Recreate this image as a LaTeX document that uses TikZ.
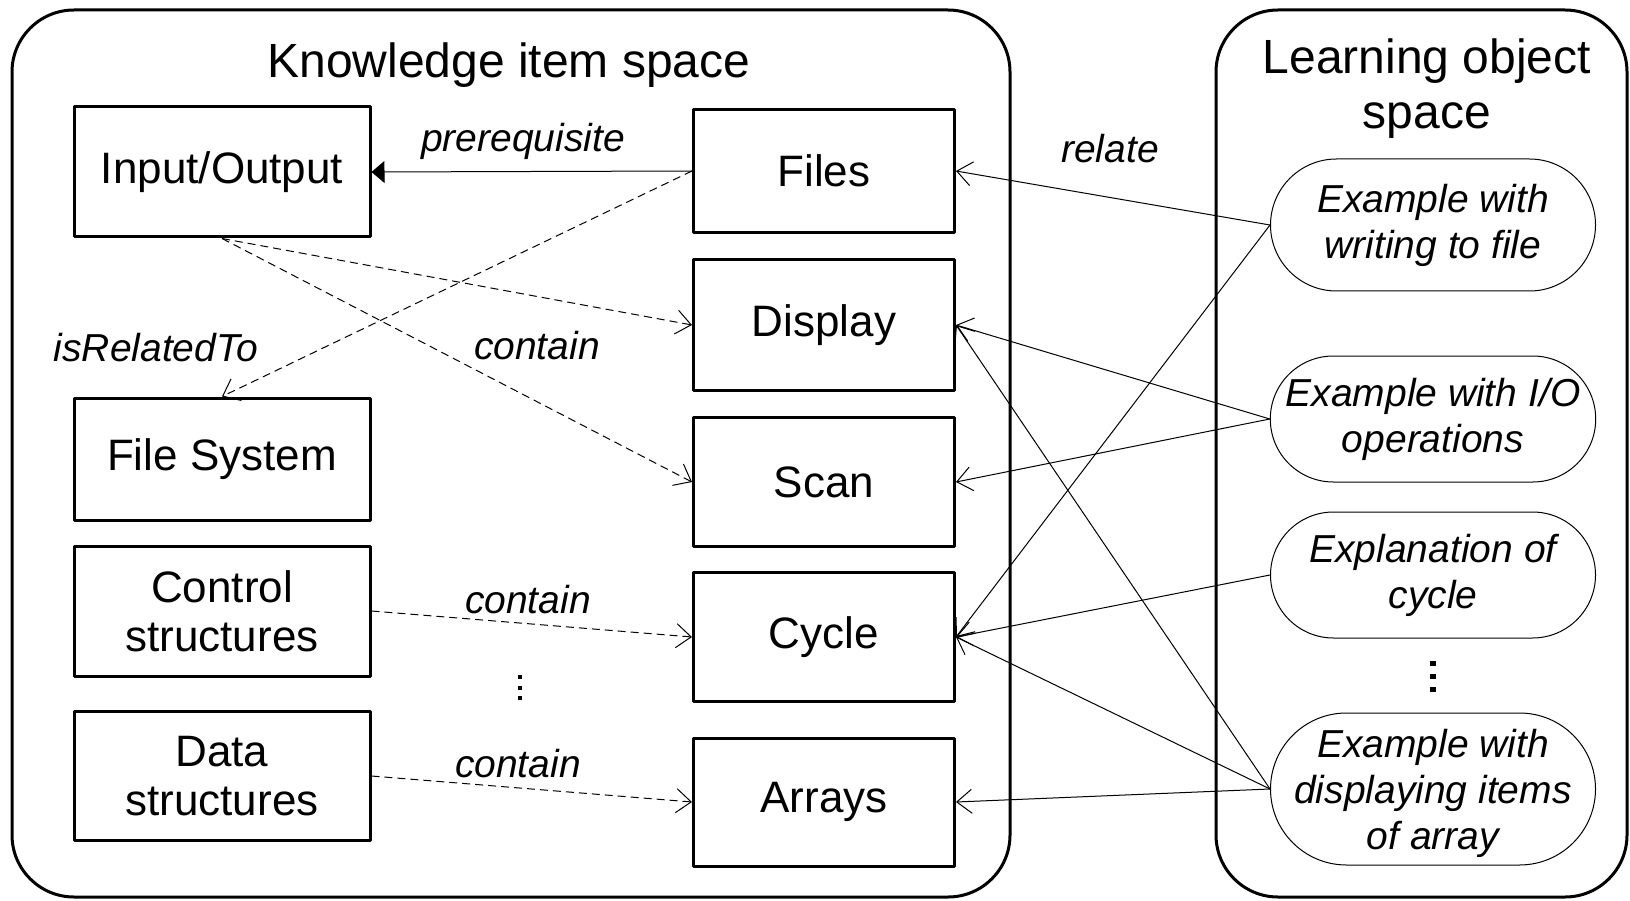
\documentclass[tikz,border=0pt]{standalone}
\usepackage{fontspec}
\setmainfont{Liberation Sans}
\usetikzlibrary{arrows.meta,shapes.misc}
\newcommand{\narrow}[1]{\makebox[200pt]{#1}}
\tikzset{
  kitem/.style={draw, line width=3pt, minimum width=296pt, inner sep=0pt, align=center, font=\fontsize{44}{49}\selectfont},
  kfile/.style={kitem, minimum width=261pt},
  lobj/.style={draw, line width=1pt, rounded rectangle, minimum width=325pt, inner sep=0pt, align=center, font=\fontsize{39}{46}\selectfont\itshape},
  lbl/.style={font=\fontsize{39}{46}\selectfont\itshape},
  rel/.style={line width=1pt, -{Straight Barb[length=15pt,width=24pt,line width=1pt]}},
  dsh/.style={rel, dash pattern=on 8pt off 5pt},
}
\begin{document}
\begin{tikzpicture}[x=1pt, y=-1pt, line join=round]
  \useasboundingbox (0,0) rectangle (1630,901);
  % spaces
  \draw[line width=3pt, rounded corners=62pt] (12,10) rectangle (1010,897);
  \draw[line width=3pt, rounded corners=62pt] (1216,10) rectangle (1627,897);
  \node[font=\fontsize{48}{55}\selectfont] (kspace) at (509,65) {Knowledge item space};
  \node[font=\fontsize{48}{55}\selectfont, align=center] (lspace) at (1427,89) {Learning object\\space};
  % knowledge items
  \node[kitem, minimum height=130pt] (io) at (222,172) {Input/Output};
  \node[kitem, minimum height=122pt] (fsys) at (222,459) {File System};
  \node[kitem, minimum height=130pt] (ctrl) at (222,611) {Control\\structures};
  \node[kitem, minimum height=129pt] (data) at (222,776) {Data\\structures};
  \node[kfile, minimum height=123pt] (files) at (824,171) {Files};
  \node[kfile, minimum height=130pt] (disp) at (824,325) {Display};
  \node[kfile, minimum height=129pt] (scan) at (824,482) {Scan};
  \node[kfile, minimum height=129pt] (cyc) at (824,637) {Cycle};
  \node[kfile, minimum height=128pt] (arr) at (824,802) {Arrays};
  % learning objects
  \node[lobj, minimum height=132pt] (ewr) at (1433,225) {Example with\\writing to file};
  \node[lobj, minimum height=126pt] (eio) at (1433,419) {Example with I/O\\operations};
  \node[lobj, minimum height=126pt] (ecy) at (1433,575) {Explanation of\\cycle};
  \node[lobj, minimum height=152pt, text depth=0pt] (ear) at (1433,789)
    {\narrow{Example with}\\\narrow{displaying items}\\\narrow{of array}};
  % dots
  \foreach \y in {677,688,698} \fill (518,\y-2) rectangle (522,\y+2);
  \foreach \y in {663,676,689} \fill (1430,\y-2.5) rectangle (1436,\y+2.5);
  % relations inside the knowledge space
  \draw[line width=1pt, -{Triangle[length=13pt,width=22pt]}] (files.west) -- (io.east);
  \node[lbl] (lpre) at (523,141) {prerequisite};
  \draw[dsh] (files.west) -- (fsys.north);
  \node[lbl] (lisr) at (156,348) {isRelatedTo};
  \draw[dsh] (io.south) -- (disp.west);
  \draw[dsh] (io.south) -- (scan.west);
  \node[lbl] (lco1) at (537,346) {contain};
  \draw[dsh] (ctrl.east) -- (cyc.west);
  \node[lbl] (lco2) at (528,600) {contain};
  \draw[dsh] (data.east) -- (arr.west);
  \node[lbl] (lco3) at (518,764) {contain};
  % relations to learning objects
  \node[lbl] (lrel) at (1110,149) {relate};
  \draw[rel] (ewr.west) -- (files.east);
  \draw[rel] (ewr.west) -- (cyc.east);
  \draw[rel] (eio.west) -- (disp.east);
  \draw[rel] (eio.west) -- (scan.east);
  \draw[rel] (ecy.west) -- (cyc.east);
  \draw[rel] (ear.west) -- (disp.east);
  \draw[rel] (ear.west) -- (cyc.east);
  \draw[rel] (ear.west) -- (arr.east);
\end{tikzpicture}
\end{document}
